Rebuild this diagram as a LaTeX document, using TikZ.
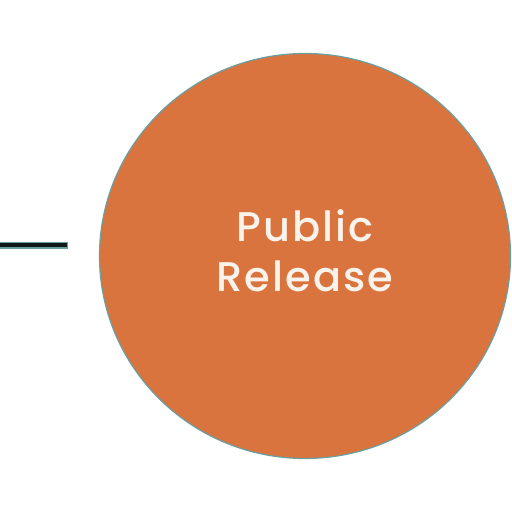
\documentclass[tikz,border=0pt]{standalone}
\usepackage{fontspec}
\setmainfont{Poppins}
\newfontfamily\phasefont{Poppins Medium}[LetterSpace=5]
\usepackage{tikz}
\usetikzlibrary{shapes.geometric}
\definecolor{releaseorange}{HTML}{DA743F}
\definecolor{edgeteal}{HTML}{6A9FA0}
\definecolor{textwhite}{HTML}{FAF3EC}

\begin{document}
\begin{tikzpicture}[
  x=1pt, y=1pt,
  phase/.style={ellipse, draw=edgeteal, line width=1.2pt, fill=releaseorange, minimum width=411pt, minimum height=405pt, inner sep=0pt},
  phasetext/.style={align=center, text=textwhite, font=\phasefont\fontsize{41.5}{50}\selectfont, yshift=5pt},
  link/.style={line width=7pt, draw=edgeteal},
  linkcore/.style={line width=4pt, draw=black!85!edgeteal},
]
  \useasboundingbox (0,0) rectangle (512,512);

  % Stage circle
  \node[phase, label={[phasetext]center:Public\\Release}] (release) at (305,256) {};

  % Incoming connector
  \coordinate (linkL) at (-1,266.5);
  \coordinate (linkR) at (68,266.5);
  \draw[link] (linkL) -- (linkR);
  \draw[linkcore] (linkL) -- ([xshift=-1.5pt]linkR);
\end{tikzpicture}
\end{document}
